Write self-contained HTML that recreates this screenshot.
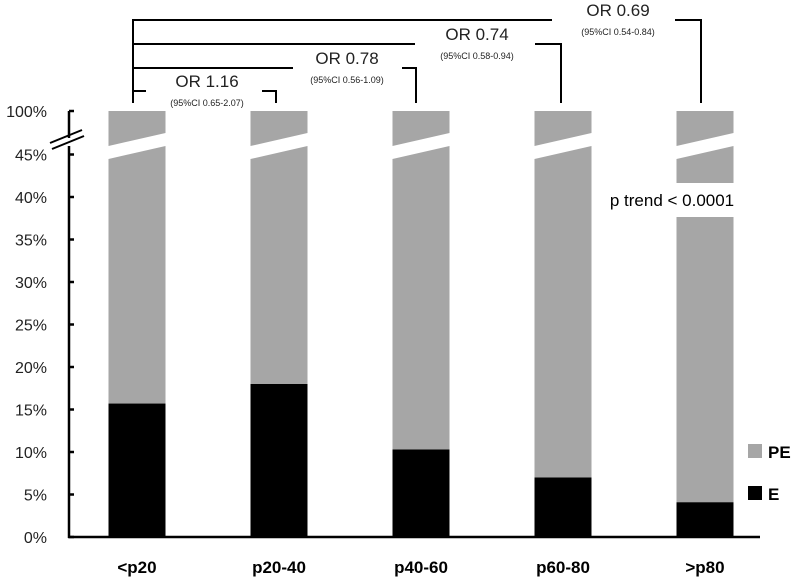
<!DOCTYPE html>
<html><head><meta charset="utf-8"><style>
body{margin:0;background:#fff}
svg{display:block;font-family:"Liberation Sans",sans-serif}
</style></head><body>
<svg id="c" width="800" height="584" viewBox="0 0 800 584">
<g id="g"></g>
</svg>
<script>
const categories=["<p20","p20-40","p40-60","p60-80",">p80"];
const eValues=[15.7,18.0,10.3,7.0,4.1];
const yTicks=[0,5,10,15,20,25,30,35,40,45];
const orLabels=["OR 1.16","OR 0.78","OR 0.74","OR 0.69"];
const ciLabels=["(95%CI 0.65-2.07)","(95%CI 0.56-1.09)","(95%CI 0.58-0.94)","(95%CI 0.54-0.84)"];
const NS="http://www.w3.org/2000/svg";
const g=document.getElementById('g');
function el(t,a,txt){const e=document.createElementNS(NS,t);for(const k in a)e.setAttribute(k,a[k]);if(txt!=null)e.textContent=txt;g.appendChild(e);return e;}
const y=v=>537-v*8.5;
const xc=i=>137+i*142;
const bw=57, topY=111;
// bars
categories.forEach((c,i)=>{
  const x0=xc(i)-bw/2;
  let r=el('rect',{x:x0,y:y(eValues[i]),width:bw,height:537-y(eValues[i]),fill:'#000'});
  
  let p=el('polygon',{points:`${x0},${y(eValues[i])} ${x0+bw},${y(eValues[i])} ${x0+bw},146 ${x0},159`,fill:'#a6a6a6'});
  
  let t=el('polygon',{points:`${x0},${topY} ${x0+bw},${topY} ${x0+bw},133 ${x0},146`,fill:'#a6a6a6'});
  
  let l=el('text',{x:xc(i),y:573,'text-anchor':'middle','font-size':17,'font-weight':'bold'},c);
  
});
// p trend gap
let gap=el('rect',{x:xc(4)-bw/2-1,y:183,width:bw+2,height:34,fill:'#fff'});

let pt=el('text',{x:672,y:206,'text-anchor':'middle','font-size':17},'p trend < 0.0001');

// axes
el('line',{x1:69,y1:111,x2:69,y2:138,stroke:'#000','stroke-width':2.5});
el('line',{x1:69,y1:146,x2:69,y2:538,stroke:'#000','stroke-width':2.5});
el('line',{x1:68,y1:537,x2:760,y2:537,stroke:'#000','stroke-width':2.5});
el('line',{x1:50,y1:143,x2:82,y2:130,stroke:'#000','stroke-width':2});
el('line',{x1:52,y1:149,x2:84,y2:136,stroke:'#000','stroke-width':2});
el('line',{x1:69,y1:111,x2:74,y2:111,stroke:'#000','stroke-width':2.5});
let t100=el('text',{x:47,y:117,'text-anchor':'end','font-size':16,fill:'#222'},'100%');

yTicks.forEach(v=>{
  el('line',{x1:69,y1:y(v),x2:74,y2:y(v),stroke:'#000','stroke-width':2.5});
  let t=el('text',{x:47,y:y(v)+6,'text-anchor':'end','font-size':16,fill:'#222'},v+'%');
  
});
// legend
el('rect',{x:748,y:444,width:14,height:14,fill:'#a6a6a6'});
let lp=el('text',{x:768,y:458,'font-size':17,'font-weight':'bold'},'PE');

el('rect',{x:748,y:486,width:14,height:14,fill:'#000'});
let le=el('text',{x:768,y:500,'font-size':17,'font-weight':'bold'},'E');

// brackets
const lv=[91,68,44,20], rx=[276,416,561,701], tx=[207,347,477,618], gl=[146,293,415,552], gr=[262,402,535,675];
el('line',{x1:133,y1:19,x2:133,y2:103,stroke:'#000','stroke-width':2});
for(let k=0;k<4;k++){
  el('path',{d:`M133 ${lv[k]} H${gl[k]} M${gr[k]} ${lv[k]} H${rx[k]} V103`,fill:'none',stroke:'#000','stroke-width':2});
  let o=el('text',{x:tx[k],y:lv[k]-4,'text-anchor':'middle','font-size':17,fill:'#222'},orLabels[k]);
  
  let ci=el('text',{x:tx[k],y:lv[k]+15,'text-anchor':'middle','font-size':9,fill:'#222'},ciLabels[k]);
  
}
</script>
</body></html>
